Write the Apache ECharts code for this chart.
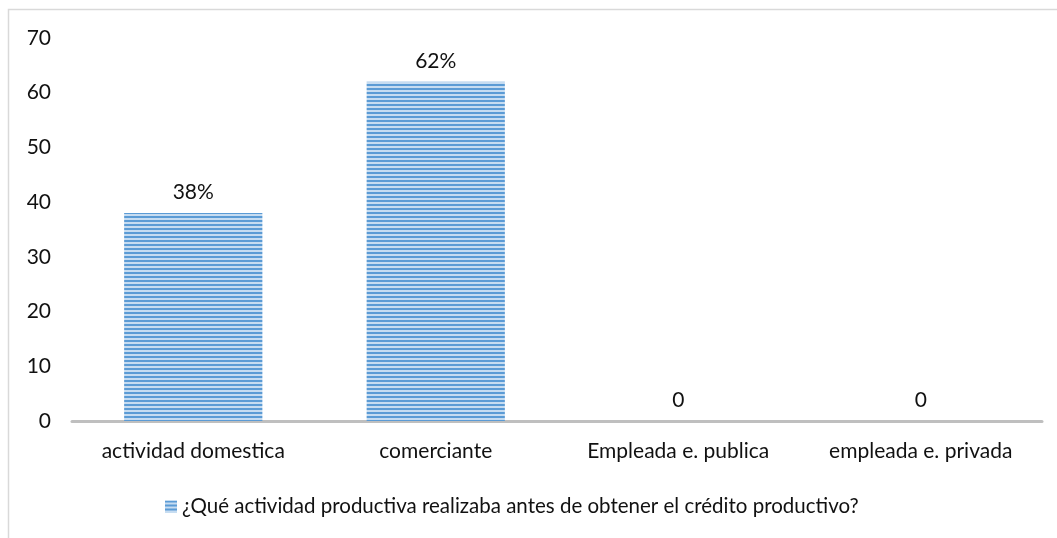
<!DOCTYPE html>
<html>
<head>
<meta charset="utf-8">
<script src="https://cdn.jsdelivr.net/npm/echarts@6/dist/echarts.min.js"></script>
<style>
  html, body { margin: 0; padding: 0; background: #fff; }
  #chart { width: 1057px; height: 538px; }
</style>
</head>
<body>
<div id="chart"></div>
<script>
// datos
const categorias = ['actividad domestica', 'comerciante', 'Empleada e. publica', 'empleada e. privada'];
const valores = [38, 62, 0, 0];
const etiquetas = ['38%', '62%', '0', '0'];
const serieNombre = '¿Qué actividad productiva realizaba antes de obtener el crédito productivo?';
const ejeY = { min: 0, max: 70, interval: 10 };

// patrón de rayas horizontales
function rayas() {
  const c = document.createElement('canvas');
  c.width = 4; c.height = 4;
  const ctx = c.getContext('2d');
  ctx.fillStyle = '#c6dcf1';
  ctx.fillRect(0, 0, 4, 4);
  ctx.fillStyle = '#5b9bd5';
  ctx.fillRect(0, 0, 4, 2);
  return c;
}
const patron = { image: rayas(), repeat: 'repeat' };

const chart = echarts.init(document.getElementById('chart'));
const fuente = 'Lato, "Open Sans", sans-serif';
const tam = 21;

chart.setOption({
  animation: false,
  backgroundColor: '#fff',
  textStyle: { fontFamily: fuente },
  graphic: [{
    type: 'rect',
    shape: { x: 8.5, y: 9.5, width: 1100, height: 600 },
    style: { fill: 'none', stroke: '#d9d9d9', lineWidth: 1.5 },
    silent: true
  }],
  grid: { left: 72, right: 15, top: 38, bottom: 117, containLabel: false },
  legend: {
    top: 491,
    left: 160,
    itemWidth: 12,
    itemHeight: 12,
    itemGap: 6,
    textStyle: { fontSize: 20.5, color: '#111', fontFamily: fuente },
    data: [{ name: serieNombre, icon: 'rect' }]
  },
  xAxis: {
    type: 'category',
    data: categorias,
    axisLine: { lineStyle: { color: '#bfbfbf', width: 3 } },
    axisTick: { show: false },
    axisLabel: { fontSize: tam, color: '#111', margin: 20, fontFamily: fuente }
  },
  yAxis: {
    type: 'value',
    min: ejeY.min,
    max: ejeY.max,
    interval: ejeY.interval,
    axisLine: { show: false },
    axisTick: { show: false },
    splitLine: { show: false },
    axisLabel: { fontSize: tam, color: '#111', margin: 21, fontFamily: fuente }
  },
  series: [{
    name: serieNombre,
    type: 'bar',
    data: valores,
    barWidth: '57%',
    itemStyle: { color: patron },
    label: {
      show: true,
      position: 'top',
      distance: 10,
      fontSize: tam,
      color: '#111',
      fontFamily: fuente,
      formatter: p => etiquetas[p.dataIndex]
    }
  }]
});
</script>
</body>
</html>
